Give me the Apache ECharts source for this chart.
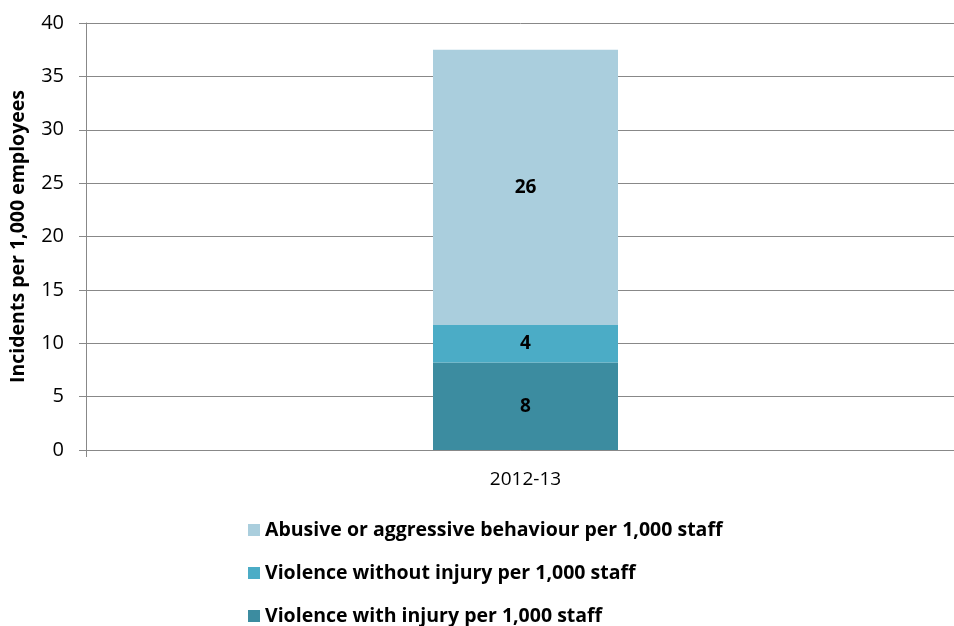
<!DOCTYPE html>
<html>
<head>
<meta charset="utf-8">
<script src="https://cdn.jsdelivr.net/npm/echarts@6/dist/echarts.min.js"></script>
<style>html,body{margin:0;padding:0;background:#fff;}#c{width:954px;height:626px;}</style>
</head>
<body>
<div id="c"></div>
<script>
const categories = ['2012-13'];
const withInjury = [8.2];
const withoutInjury = [3.5];
const abusive = [25.8];
const yTicks = { min: 0, max: 40, interval: 5 };
const seriesNames = [
  'Violence with injury per 1,000 staff',
  'Violence without injury per 1,000 staff',
  'Abusive or aggressive behaviour per 1,000 staff'
];
const colors = ['#3C8CA0', '#4BACC6', '#AACEDD'];

const FONT = 'Open Sans';
const chart = echarts.init(document.getElementById('c'), null, { renderer: 'canvas' });
const labelCfg = {
  show: true, position: 'inside', color: '#000', fontWeight: 'bold',
  fontFamily: FONT, fontSize: 19,
  formatter: p => Math.round(p.value)
};
const dataSets = [withInjury, withoutInjury, abusive];
chart.setOption({
  animation: false,
  grid: { left: 86, top: 23, width: 879, bottom: 176, containLabel: false, outerBoundsMode: 'none' },
  legend: {
    orient: 'vertical', left: 248, top: 520, padding: 0, height: 120,
    data: [seriesNames[2], seriesNames[1], seriesNames[0]],
    itemWidth: 12, itemHeight: 12, itemGap: 23,
    icon: 'rect',
    textStyle: { fontFamily: FONT, fontWeight: 'bold', fontSize: 19.5, color: '#000' }
  },
  xAxis: {
    type: 'category', data: categories,
    axisLine: { lineStyle: { color: '#888888', width: 1 } },
    axisTick: { show: true, alignWithLabel: false, length: 7, lineStyle: { color: '#888888' } },
    axisLabel: { fontFamily: FONT, fontSize: 19, color: '#000', margin: 20 }
  },
  yAxis: {
    type: 'value', min: yTicks.min, max: yTicks.max, interval: yTicks.interval,
    name: 'Incidents per 1,000 employees', nameLocation: 'middle', nameGap: 58,
    nameTextStyle: { fontFamily: FONT, fontWeight: 'bold', fontSize: 19.5, color: '#000' },
    axisLine: { show: true, lineStyle: { color: '#888888', width: 1 } },
    axisTick: { show: true, length: 7, lineStyle: { color: '#888888' } },
    axisLabel: { fontFamily: FONT, fontSize: 20, color: '#000', margin: 22 },
    splitLine: { show: true, lineStyle: { color: '#888888', width: 1 } }
  },
  series: dataSets.map((d, i) => ({
    name: seriesNames[i], type: 'bar', stack: 'total', data: d,
    barWidth: 185, itemStyle: { color: colors[i] }, label: labelCfg
  }))
});
</script>
</body>
</html>
